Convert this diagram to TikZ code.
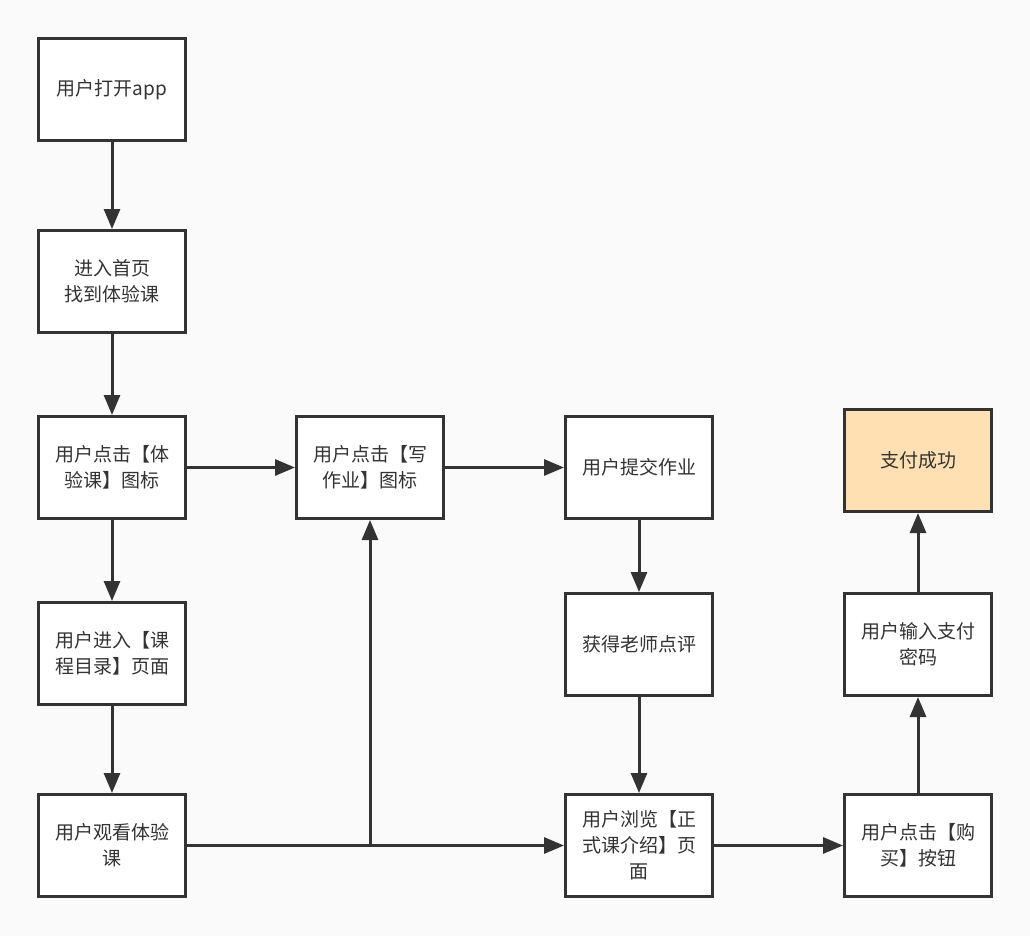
\documentclass[tikz,border=0pt]{standalone}
\usepackage{fontspec}
\newfontfamily\cjk{Noto Sans CJK SC}
\usetikzlibrary{arrows.meta}
\definecolor{bgcol}{HTML}{FAFAFA}
\definecolor{linecol}{HTML}{333333}
\definecolor{donecol}{HTML}{FFE0B2}
\tikzset{
    flowbox/.style={draw=linecol, line width=3pt, fill=white, text=linecol,
        minimum width=147pt, minimum height=102pt, align=center,
        font=\cjk\fontsize{19}{26}\selectfont},
    flowarrow/.style={draw=linecol, line width=3pt,
        -{Triangle[length=20pt,width=16pt]}}
}
\begin{document}
\begin{tikzpicture}[x=1pt,y=-1pt]
        \fill[bgcol] (0,0) rectangle (1030,936);
        \useasboundingbox (0,0) rectangle (1030,936);
        % left column
        \node[flowbox] (open) at (112,89.5) {用户打开app};
        \node[flowbox] (home) at (112,281.5) {进入首页\\找到体验课};
        \node[flowbox] (trial) at (112,467.5) {用户点击【体\\验课】图标};
        \node[flowbox] (catalog) at (112,653.5) {用户进入【课\\程目录】页面};
        \node[flowbox] (watch) at (112,845.5) {用户观看体验\\课};
        % middle columns
        \node[flowbox] (write) at (370,467.5) {用户点击【写\\作业】图标};
        \node[flowbox] (submit) at (639,467.5) {用户提交作业};
        \node[flowbox] (review) at (639,644.5) {获得老师点评};
        \node[flowbox] (browse) at (639,845.5) {用户浏览【正\\式课介绍】页\\面};
        % right column
        \node[flowbox] (buy) at (918,845.5) {用户点击【购\\买】按钮};
        \node[flowbox] (pwd) at (918,644.5) {用户输入支付\\密码};
        \node[flowbox, fill=donecol] (success) at (918,460.5) {支付成功};
        % connectors
        \draw[flowarrow] (open) -- (home);
        \draw[flowarrow] (home) -- (trial);
        \draw[flowarrow] (trial) -- (catalog);
        \draw[flowarrow] (catalog) -- (watch);
        \draw[flowarrow] (trial) -- (write);
        \draw[flowarrow] (watch.east) -| (write.south);
        \draw[flowarrow] (watch) -- (browse);
        \draw[flowarrow] (write) -- (submit);
        \draw[flowarrow] (submit) -- (review);
        \draw[flowarrow] (review) -- (browse);
        \draw[flowarrow] (browse) -- (buy);
        \draw[flowarrow] (buy) -- (pwd);
        \draw[flowarrow] (pwd) -- (success);
    \end{tikzpicture}
\end{document}
